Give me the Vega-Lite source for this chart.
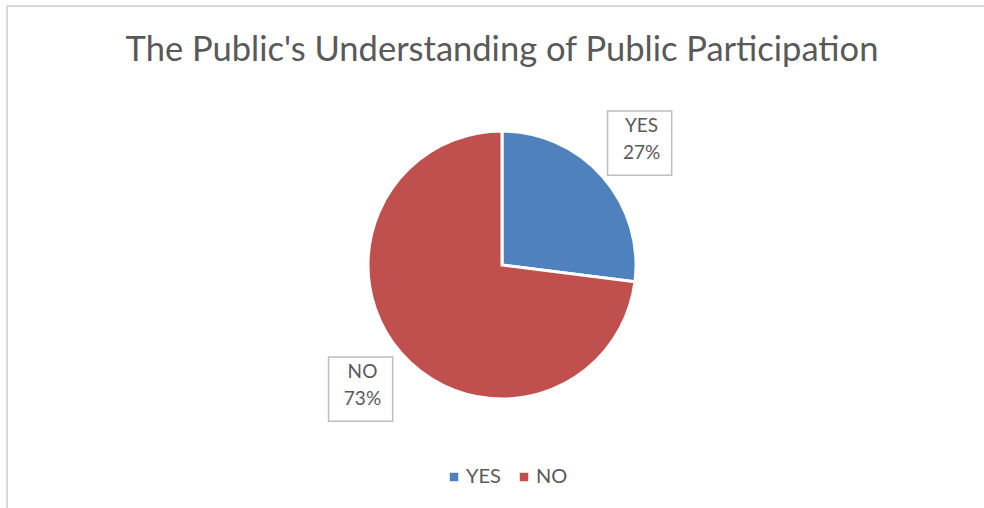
{
  "$schema": "https://vega.github.io/schema/vega-lite/v6.json",
  "autosize": {"type": "none"},
  "width": 990,
  "height": 518,
  "padding": {"left": 7, "top": 6, "right": -13, "bottom": -16},
  "background": "white",
  "view": {"stroke": "#d9d9d9", "strokeWidth": 2, "strokeOpacity": 1},
  "config": {"view": {"stroke": "#d9d9d9", "strokeWidth": 2}, "font": "Lato"},
  "title": {
    "text": "The Public's Understanding of Public Participation",
    "anchor": "middle",
    "frame": "group",
    "offset": -89,
    "baseline": "alphabetic",
    "fontSize": 34.5,
    "fontWeight": "normal",
    "color": "#595959",
    "font": "Lato"
  },
  "data": {
    "values": [
      {"answer": "YES", "value": 27, "label": "YES\n27%"},
      {"answer": "NO", "value": 73, "label": "NO\n73%"}
    ]
  },
  "encoding": {
    "theta": {"field": "value", "type": "quantitative", "stack": true},
    "order": {"field": "answer", "sort": "descending"},
    "color": {
      "field": "answer",
      "type": "nominal",
      "scale": {"domain": ["YES", "NO"], "range": ["#4F81BD", "#C0504D"]},
      "legend": {
        "orient": "none",
        "legendX": 437,
        "legendY": 461,
        "title": null,
        "direction": "horizontal",
        "symbolType": "square",
        "symbolSize": 72,
        "symbolStrokeWidth": 0,
        "labelFontSize": 20,
        "labelColor": "#595959",
        "labelFont": "Lato",
        "columnPadding": 13,
        "labelOffset": 2
      }
    }
  },
  "layer": [
    {"mark": {"type": "arc", "outerRadius": 134, "stroke": "white", "strokeWidth": 3}},
    {
      "mark": {"type": "text", "radius": 186, "font": "DejaVu Sans", "fontSize": 84, "align": "center", "baseline": "middle", "dy": -2, "dx": -2, "stroke": "#bfbfbf", "strokeWidth": 1.5},
      "encoding": {"text": {"value": "■"}, "color": {"value": "transparent"}}
    },
    {
      "mark": {"type": "text", "radius": 186, "fontSize": 19, "lineBreak": "\n", "lineHeight": 27, "align": "center", "baseline": "middle", "dy": -16, "font": "Lato"},
      "encoding": {"text": {"field": "label"}, "color": {"value": "#595959"}}
    }
  ]
}
